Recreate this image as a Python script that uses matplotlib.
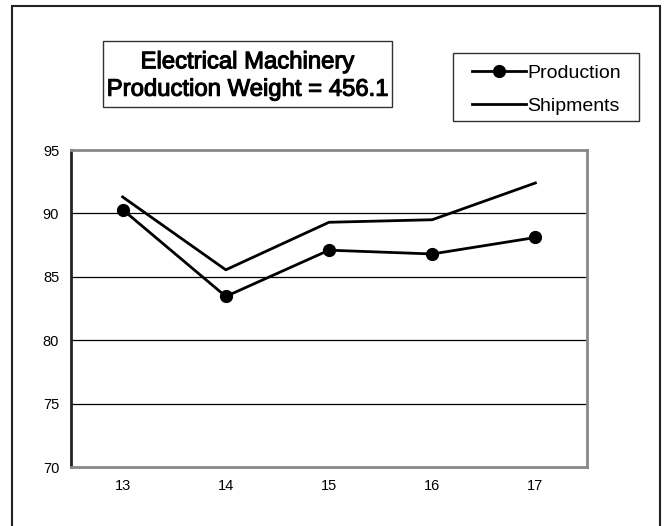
import matplotlib
matplotlib.use("Agg")
import matplotlib.pyplot as plt
import matplotlib.patheffects as pe
from matplotlib.patches import Rectangle

plt.rcParams["font.family"] = ["Liberation Sans", "DejaVu Sans"]

# data
years = ["13", "14", "15", "16", "17"]
production = [90.3, 83.45, 87.1, 86.8, 88.1]
shipments = [91.3, 85.55, 89.3, 89.5, 92.4]
y_ticks = [70, 75, 80, 85, 90, 95]

W, H = 664, 526
fig = plt.figure(figsize=(W / 100, H / 100), dpi=100)


def fx(px):
    return px / W


def fy(py):
    return 1 - py / H


def box(x0, y0, x1, y1, **kw):
    fig.patches.append(Rectangle((fx(x0), fy(y1)), fx(x1) - fx(x0), fy(y0) - fy(y1),
                                 transform=fig.transFigure, fill=False, **kw))


# outer frame (bottom edge runs off the image)
box(12, 6, 660, 535, lw=1.5, ec="#222222")

ax = fig.add_axes([fx(71), fy(467), fx(587) - fx(71), fy(150) - fy(467)])
x = range(len(years))
ax.plot(x, production, color="black", lw=2, marker="o", ms=8.5, label="Production")
ax.plot(x, shipments, color="black", lw=2, label="Shipments")

ax.set_xlim(-0.5, len(years) - 0.5)
ax.set_ylim(70, 95)
ax.set_xticks(list(x), years)
ax.set_yticks(y_ticks)
ax.tick_params(length=0, labelsize=10.5)
ax.tick_params(axis="y", pad=8.5)
ax.tick_params(axis="x", pad=9)
for v in y_ticks[1:-1]:
    ax.axhline(v, color="black", lw=0.9, zorder=0)
for side in ["top", "right", "bottom"]:
    ax.spines[side].set_color("#888888")
    ax.spines[side].set_linewidth(2)
ax.spines["left"].set_color("#222222")
ax.spines["left"].set_linewidth(2)

# title box
box(103, 41, 392, 107, lw=1, ec="#333333")
fig.text(fx(247.5), fy(76), "Electrical Machinery\nProduction Weight = 456.1",
         ha="center", va="center", fontsize=17.2, linespacing=1.32,
         path_effects=[pe.withStroke(linewidth=0.8, foreground="black")])

# legend box drawn by hand, entries from the library
box(453, 53, 639, 121, lw=1, ec="#333333")
fig.legend(loc="upper left", bbox_to_anchor=(fx(472), fy(64)), fontsize=14,
           frameon=False, borderpad=0, borderaxespad=0,
           handlelength=2.8, handletextpad=0.05, labelspacing=0.8)

fig.savefig("out.png", dpi=100)
